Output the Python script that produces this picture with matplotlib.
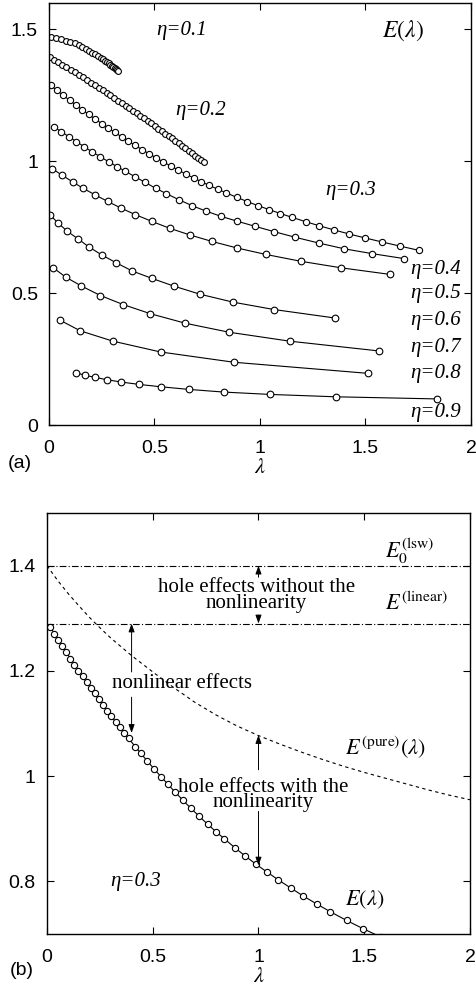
import matplotlib
matplotlib.use("Agg")
import matplotlib.pyplot as plt

plt.rcParams['font.family'] = ['Liberation Sans', 'DejaVu Sans']
plt.rcParams['mathtext.fontset'] = 'stix'

# ---------------- panel (a) data ----------------
lam_01 = [0.008, 0.033, 0.057, 0.080, 0.101, 0.121, 0.140, 0.158, 0.175, 0.191, 0.206, 0.220,
          0.233, 0.245, 0.256, 0.266, 0.275, 0.283, 0.291, 0.298, 0.305, 0.311, 0.317, 0.322, 0.327]
E_01 = [1.470, 1.467, 1.463, 1.458, 1.453, 1.447, 1.440, 1.433, 1.426, 1.419, 1.412, 1.406,
        1.399, 1.393, 1.387, 1.381, 1.376, 1.371, 1.367, 1.362, 1.358, 1.354, 1.351, 1.347, 1.344]

lam_02 = [0.003, 0.023, 0.043, 0.063, 0.082, 0.102, 0.121, 0.141, 0.160, 0.179, 0.198, 0.217,
          0.236, 0.254, 0.273, 0.291, 0.309, 0.327, 0.345, 0.363, 0.381, 0.398, 0.416, 0.433,
          0.450, 0.467, 0.484, 0.501, 0.518, 0.534, 0.551, 0.567, 0.583, 0.599, 0.615, 0.631,
          0.646, 0.662, 0.677, 0.692, 0.707, 0.721, 0.735]
E_02 = [1.3956, 1.3859, 1.3762, 1.3664, 1.3570, 1.3471, 1.3376, 1.3275, 1.3179, 1.3082, 1.2984,
        1.2886, 1.2787, 1.2693, 1.2593, 1.2497, 1.2401, 1.2304, 1.2207, 1.2109, 1.2011, 1.1917,
        1.1817, 1.1723, 1.1628, 1.1532, 1.1436, 1.1339, 1.1242, 1.1150, 1.1052, 1.0959, 1.0866,
        1.0772, 1.0678, 1.0583, 1.0494, 1.0398, 1.0308, 1.0217, 1.0127, 1.0041, 0.9956]

lam_03 = [0.008, 0.038, 0.068, 0.098, 0.128, 0.158, 0.188, 0.219, 0.250, 0.281, 0.312, 0.344,
          0.376, 0.408, 0.441, 0.474, 0.508, 0.542, 0.577, 0.612, 0.648, 0.685, 0.722, 0.760,
          0.799, 0.839, 0.889, 0.940, 0.991, 1.043, 1.097, 1.154, 1.217, 1.280, 1.349, 1.420,
          1.496, 1.578, 1.662, 1.752]
E_03 = [1.288, 1.2687, 1.2498, 1.2312, 1.2132, 1.1954, 1.178, 1.1604, 1.143, 1.1263, 1.1098,
        1.0931, 1.0767, 1.0606, 1.0444, 1.0287, 1.0129, 0.9976, 0.9821, 0.967, 0.9518, 0.937,
        0.9226, 0.9084, 0.8944, 0.8807, 0.8637, 0.8472, 0.8317, 0.817, 0.8018, 0.787, 0.7709,
        0.7558, 0.7402, 0.725, 0.7098, 0.6942, 0.6788, 0.6626]

lam_04 = [0.022, 0.059, 0.093, 0.130, 0.166, 0.206, 0.244, 0.283, 0.322, 0.359, 0.406, 0.453,
          0.506, 0.556, 0.616, 0.680, 0.746, 0.817, 0.893, 0.975, 1.066, 1.168, 1.278, 1.398,
          1.533, 1.684]
E_04 = [1.131, 1.112, 1.094, 1.0744, 1.0557, 1.0351, 1.0169, 0.9982, 0.9801, 0.9635, 0.9423,
        0.9212, 0.8976, 0.8776, 0.8542, 0.8312, 0.8107, 0.7909, 0.7727, 0.7538, 0.7335, 0.7117,
        0.6902, 0.6684, 0.6497, 0.631]

lam_05 = [0.015, 0.063, 0.114, 0.161, 0.218, 0.278, 0.340, 0.409, 0.488, 0.572, 0.667, 0.773,
          0.893, 1.027, 1.193, 1.386, 1.618]
E_05 = [0.972, 0.947, 0.921, 0.898, 0.873, 0.848, 0.823, 0.798, 0.772, 0.746, 0.721, 0.696,
        0.671, 0.647, 0.621, 0.596, 0.571]

lam_06 = [0.007, 0.043, 0.085, 0.137, 0.190, 0.250, 0.319, 0.395, 0.488, 0.591, 0.716, 0.872,
          1.066, 1.354]
E_06 = [0.795, 0.766, 0.736, 0.706, 0.675, 0.645, 0.615, 0.584, 0.556, 0.527, 0.496, 0.466,
        0.438, 0.406]

lam_07 = [0.019, 0.079, 0.154, 0.244, 0.351, 0.481, 0.646, 0.853, 1.141, 1.563]
E_07 = [0.597, 0.561, 0.527, 0.491, 0.457, 0.422, 0.386, 0.352, 0.318, 0.281]

lam_08 = [0.051, 0.149, 0.303, 0.529, 0.877, 1.512]
E_08 = [0.398, 0.357, 0.318, 0.277, 0.238, 0.196]

lam_09 = [0.130, 0.169, 0.217, 0.273, 0.343, 0.427, 0.531, 0.664, 0.828, 1.049, 1.362, 1.840]
E_09 = [0.198, 0.189, 0.181, 0.172, 0.163, 0.154, 0.145, 0.135, 0.125, 0.116, 0.107, 0.099]

curves_a = [(lam_01, E_01, 4.2), (lam_02, E_02, 4.2), (lam_03, E_03, 4.5), (lam_04, E_04, 4.6),
            (lam_05, E_05, 4.8), (lam_06, E_06, 4.8), (lam_07, E_07, 4.8), (lam_08, E_08, 4.8),
            (lam_09, E_09, 4.8)]

eta_labels = ["η=0.1", "η=0.2", "η=0.3", "η=0.4", "η=0.5", "η=0.6", "η=0.7", "η=0.8", "η=0.9"]
eta_label_pos = [(0.51, 1.496), (0.60, 1.193), (1.31, 0.89), (1.71, 0.59), (1.71, 0.499),
                 (1.71, 0.398), (1.71, 0.294), (1.71, 0.196), (1.71, 0.047)]

# ---------------- panel (b) data ----------------
lam_b = [0.016, 0.035, 0.054, 0.073, 0.092, 0.111, 0.130, 0.149, 0.168, 0.187, 0.206, 0.225,
         0.245, 0.265, 0.285, 0.305, 0.325, 0.345, 0.365, 0.386, 0.417, 0.444, 0.475, 0.507,
         0.539, 0.570, 0.606, 0.642, 0.680, 0.719, 0.759, 0.800, 0.839, 0.890, 0.937, 0.989,
         1.039, 1.094, 1.153, 1.209, 1.276, 1.338, 1.417, 1.496, 1.578]
E_b = [1.283, 1.271, 1.2585, 1.2467, 1.235, 1.2234, 1.212, 1.2006, 1.1896, 1.1785, 1.1676,
       1.157, 1.1458, 1.1349, 1.1241, 1.1134, 1.103, 1.0926, 1.0824, 1.0716, 1.0562, 1.043,
       1.0283, 1.0133, 0.999, 0.9852, 0.9695, 0.9544, 0.939, 0.9238, 0.9088, 0.894, 0.8807,
       0.8634, 0.8482, 0.8323, 0.8181, 0.8027, 0.7872, 0.7728, 0.7568, 0.7426, 0.7256, 0.7098,
       0.6942]

lam_pure = [0.0, 0.05, 0.1, 0.15, 0.2, 0.25, 0.3, 0.4, 0.5, 0.6, 0.7, 0.8, 0.9, 1.0, 1.1, 1.2,
            1.3, 1.4, 1.5, 1.6, 1.7, 1.8, 1.9, 2.0]
E_pure = [1.400, 1.372, 1.347, 1.324, 1.302, 1.282, 1.263, 1.229, 1.198, 1.168, 1.140, 1.116,
          1.095, 1.077, 1.061, 1.046, 1.032, 1.019, 1.007, 0.996, 0.985, 0.974, 0.964, 0.955]

E_lsw = 1.40
E_linear = 1.29

serif = ['Liberation Serif', 'DejaVu Serif']

fig = plt.figure(figsize=(4.77, 9.94), dpi=100)
ax1 = fig.add_axes([0.1027, 0.5724, 0.8847, 0.4245])
ax2 = fig.add_axes([0.0985, 0.0604, 0.8868, 0.4235])

for ax in (ax1, ax2):
    ax.tick_params(direction='in', top=True, right=True, length=5, width=0.8, labelsize=14)
    ax.tick_params(axis='x', pad=11)
    ax.tick_params(axis='y', pad=8)
    for s in ax.spines.values():
        s.set_linewidth(1.0)

# panel (a)
for lam, E, ms in curves_a:
    ax1.plot(lam, E, '-', color='black', lw=0.8, marker='o', ms=ms, mfc='white',
             mec='black', mew=0.8)
for lab, (x, y) in zip(eta_labels, eta_label_pos):
    ax1.text(x, y, lab, family=serif, style='italic', fontsize=15, va='center', ha='left')
ax1.text(1.58, 1.496, r'$E(\lambda)$', fontsize=17, va='center', ha='left')
ax1.set_xlim(0, 2)
ax1.set_ylim(0, 1.6)
ax1.set_xticks([0, 0.5, 1, 1.5, 2])
ax1.set_xticklabels(['0', '0.5', '1', '1.5', '2'])
ax1.set_yticks([0, 0.5, 1, 1.5])
ax1.set_yticklabels(['0', '0.5', '1', '1.5'])
ax1.set_xlabel(r'$\lambda$', fontsize=16, labelpad=0)

# panel (b)
ax2.axhline(E_lsw, color='black', lw=0.8, ls=(0, (6, 2, 1, 2)))
ax2.axhline(E_linear, color='black', lw=0.8, ls=(0, (6, 2, 1, 2)))
ax2.plot(lam_pure, E_pure, color='black', lw=0.8, ls=(0, (3, 3)))
ax2.plot(lam_b, E_b, '-', color='black', lw=0.8, marker='o', ms=4.5, mfc='white',
         mec='black', mew=0.8)

arrow_kw = dict(arrowstyle='-|>,head_length=0.5,head_width=0.18', color='black', lw=0.7,
                shrinkA=0, shrinkB=0)
ax2.annotate('', xy=(1.0, 1.40), xytext=(1.0, 1.378), arrowprops=arrow_kw)
ax2.annotate('', xy=(1.0, 1.29), xytext=(1.0, 1.306), arrowprops=arrow_kw)
ax2.annotate('', xy=(0.40, 1.29), xytext=(0.40, 1.198), arrowprops=arrow_kw)
ax2.annotate('', xy=(0.40, 1.082), xytext=(0.40, 1.150), arrowprops=arrow_kw)
ax2.annotate('', xy=(1.0, 1.078), xytext=(1.0, 1.012), arrowprops=arrow_kw)
ax2.annotate('', xy=(1.0, 0.830), xytext=(1.0, 0.933), arrowprops=arrow_kw)

ax2.text(0.99, 1.343, 'hole effects without the\nnonlinearity', family=serif, fontsize=15,
         ha='center', va='center', linespacing=0.75)
ax2.text(0.638, 1.176, 'nonlinear effects', family=serif, fontsize=15, ha='center',
         va='center')
ax2.text(1.02, 0.964, 'hole effects with the\nnonlinearity', family=serif, fontsize=15,
         ha='center', va='center', linespacing=0.75)
ax2.text(1.60, 1.428, r'$E_0^{\rm (lsw)}$', fontsize=16, ha='left', va='center')
ax2.text(1.60, 1.327, r'$E^{\rm (linear)}$', fontsize=16, ha='left', va='center')
ax2.text(1.41, 1.054, r'$E^{\rm (pure)}(\lambda)$', fontsize=16, ha='left', va='center')
ax2.text(1.41, 0.765, r'$E(\lambda)$', fontsize=16, ha='left', va='center')
ax2.text(0.30, 0.80, 'η=0.3', family=serif, style='italic', fontsize=15, ha='left',
         va='center')

ax2.set_xlim(0, 2)
ax2.set_ylim(0.7, 1.5)
ax2.set_xticks([0, 0.5, 1, 1.5, 2])
ax2.set_xticklabels(['0', '0.5', '1', '1.5', '2'])
ax2.set_yticks([0.8, 1.0, 1.2, 1.4])
ax2.set_yticklabels(['0.8', '1', '1.2', '1.4'])
ax2.set_xlabel(r'$\lambda$', fontsize=16, labelpad=0)

fig.text(0.042, 0.534, '(a)', fontsize=14, ha='center', va='center')
fig.text(0.046, 0.024, '(b)', fontsize=14, ha='center', va='center')

fig.savefig('out.png', dpi=100)
